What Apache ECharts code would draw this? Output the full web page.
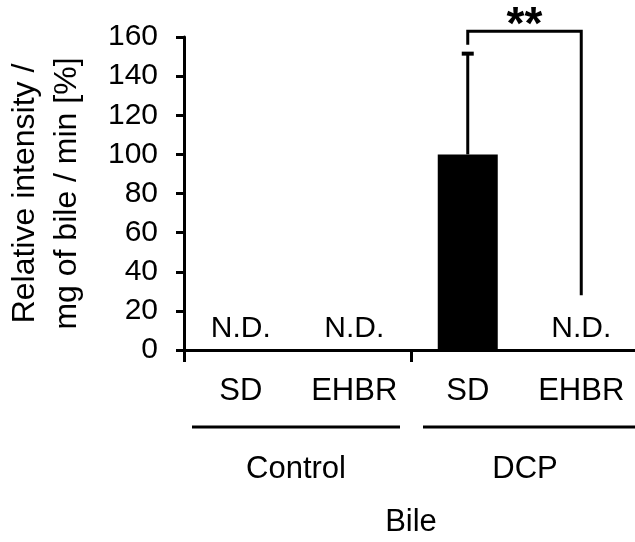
<!DOCTYPE html>
<html><head><meta charset="utf-8">
<script src="https://cdn.jsdelivr.net/npm/echarts@6/dist/echarts.min.js"></script>
<style>html,body{margin:0;padding:0;background:#fff}#c{width:635px;height:542px}</style>
</head><body><div id="c"></div>
<script>
const categories = ['SD', 'EHBR', 'SD', 'EHBR'];
const groups = ['Control', 'DCP'];
const values = [0, 0, 100, 0];
const errorTop = [null, null, 152, null];
const ndLabel = 'N.D.';
const sigBracket = [[2, 3, 156, 163, 28]]; // [fromCat, toCat, leftEnd, top, rightEnd]
const sigText = '**';
const yTicks = [0, 20, 40, 60, 80, 100, 120, 140, 160];

const FONT = 'Liberation Sans';
const chart = echarts.init(document.getElementById('c'), null, {renderer: 'canvas'});

const errData = [];
errorTop.forEach((e, i) => { if (e != null) errData.push([i, values[i], e]); });

chart.setOption({
  backgroundColor: '#fff',
  animation: false,
  grid: {left: 184, right: -3, top: 37, bottom: 192, containLabel: false, outerBoundsMode: 'none'},
  xAxis: {
    type: 'category',
    data: categories,
    axisLine: {lineStyle: {color: '#000', width: 3}},
    axisTick: {show: true, length: 12, lineStyle: {color: '#000', width: 3},
      interval: (i) => i === 0 || i === 2},
    axisLabel: {color: '#000', fontSize: 31, fontFamily: FONT, margin: 26},
    name: 'Bile', nameLocation: 'middle', nameGap: 157,
    nameTextStyle: {color: '#000', fontSize: 31, fontFamily: FONT}
  },
  yAxis: {
    type: 'value', min: yTicks[0], max: yTicks[yTicks.length - 1], interval: 20,
    splitLine: {show: false},
    axisLine: {show: true, lineStyle: {color: '#000', width: 3}},
    axisTick: {show: true, length: 8, lineStyle: {color: '#000', width: 3}},
    axisLabel: {color: '#000', fontSize: 30, fontFamily: FONT, margin: 26, padding: [8, 0, 0, 0]},
    name: 'Relative intensity /\nmg of bile / min [%]', nameLocation: 'middle', nameGap: 96,
    nameTextStyle: {color: '#000', fontSize: 32, fontFamily: FONT, lineHeight: 42}
  },
  series: [
    {
      type: 'bar', data: values, barWidth: 60,
      itemStyle: {color: '#000'},
      label: {show: true, position: 'top', distance: 6, color: '#000', fontSize: 30, fontFamily: FONT,
        formatter: p => p.value === 0 ? ndLabel : ''}
    },
    {
      type: 'custom', data: errData, clip: false, z: 5,
      renderItem: (params, api) => {
        const b = api.coord([api.value(0), api.value(1)]);
        const t = api.coord([api.value(0), api.value(2)]);
        return {type: 'group', children: [
          {type: 'line', shape: {x1: b[0], y1: b[1], x2: t[0], y2: t[1]}, style: {stroke: '#000', lineWidth: 3}},
          {type: 'line', shape: {x1: t[0] - 6, y1: t[1] + 1, x2: t[0] + 6, y2: t[1] + 1}, style: {stroke: '#000', lineWidth: 4}}
        ]};
      }
    },
    {
      type: 'custom', data: sigBracket, clip: false, z: 5,
      renderItem: (params, api) => {
        const a = api.coord([api.value(0), api.value(2)]);
        const topL = api.coord([api.value(0), api.value(3)]);
        const topR = api.coord([api.value(1), api.value(3)]);
        const r = api.coord([api.value(1), api.value(4)]);
        return {type: 'group', children: [
          {type: 'polyline', shape: {points: [a, topL, topR, r]}, style: {stroke: '#000', lineWidth: 3, fill: null}},
          {type: 'text', x: (topL[0] + topR[0]) / 2, y: topL[1] - 5,
            style: {text: sigText, fill: '#000', font: 'bold 46px "Liberation Sans"', align: 'center', verticalAlign: 'middle'}}
        ]};
      }
    }
  ],
  graphic: [
    {type: 'line', shape: {x1: 192, y1: 427, x2: 400, y2: 427}, style: {stroke: '#000', lineWidth: 3}},
    {type: 'line', shape: {x1: 423, y1: 427, x2: 635, y2: 427}, style: {stroke: '#000', lineWidth: 3}},
    {type: 'text', x: 296, y: 469, style: {text: groups[0], fill: '#000', font: '31px "Liberation Sans"', align: 'center', verticalAlign: 'middle'}},
    {type: 'text', x: 525, y: 469, style: {text: groups[1], fill: '#000', font: '31px "Liberation Sans"', align: 'center', verticalAlign: 'middle'}}
  ]
});
</script>
</body></html>
